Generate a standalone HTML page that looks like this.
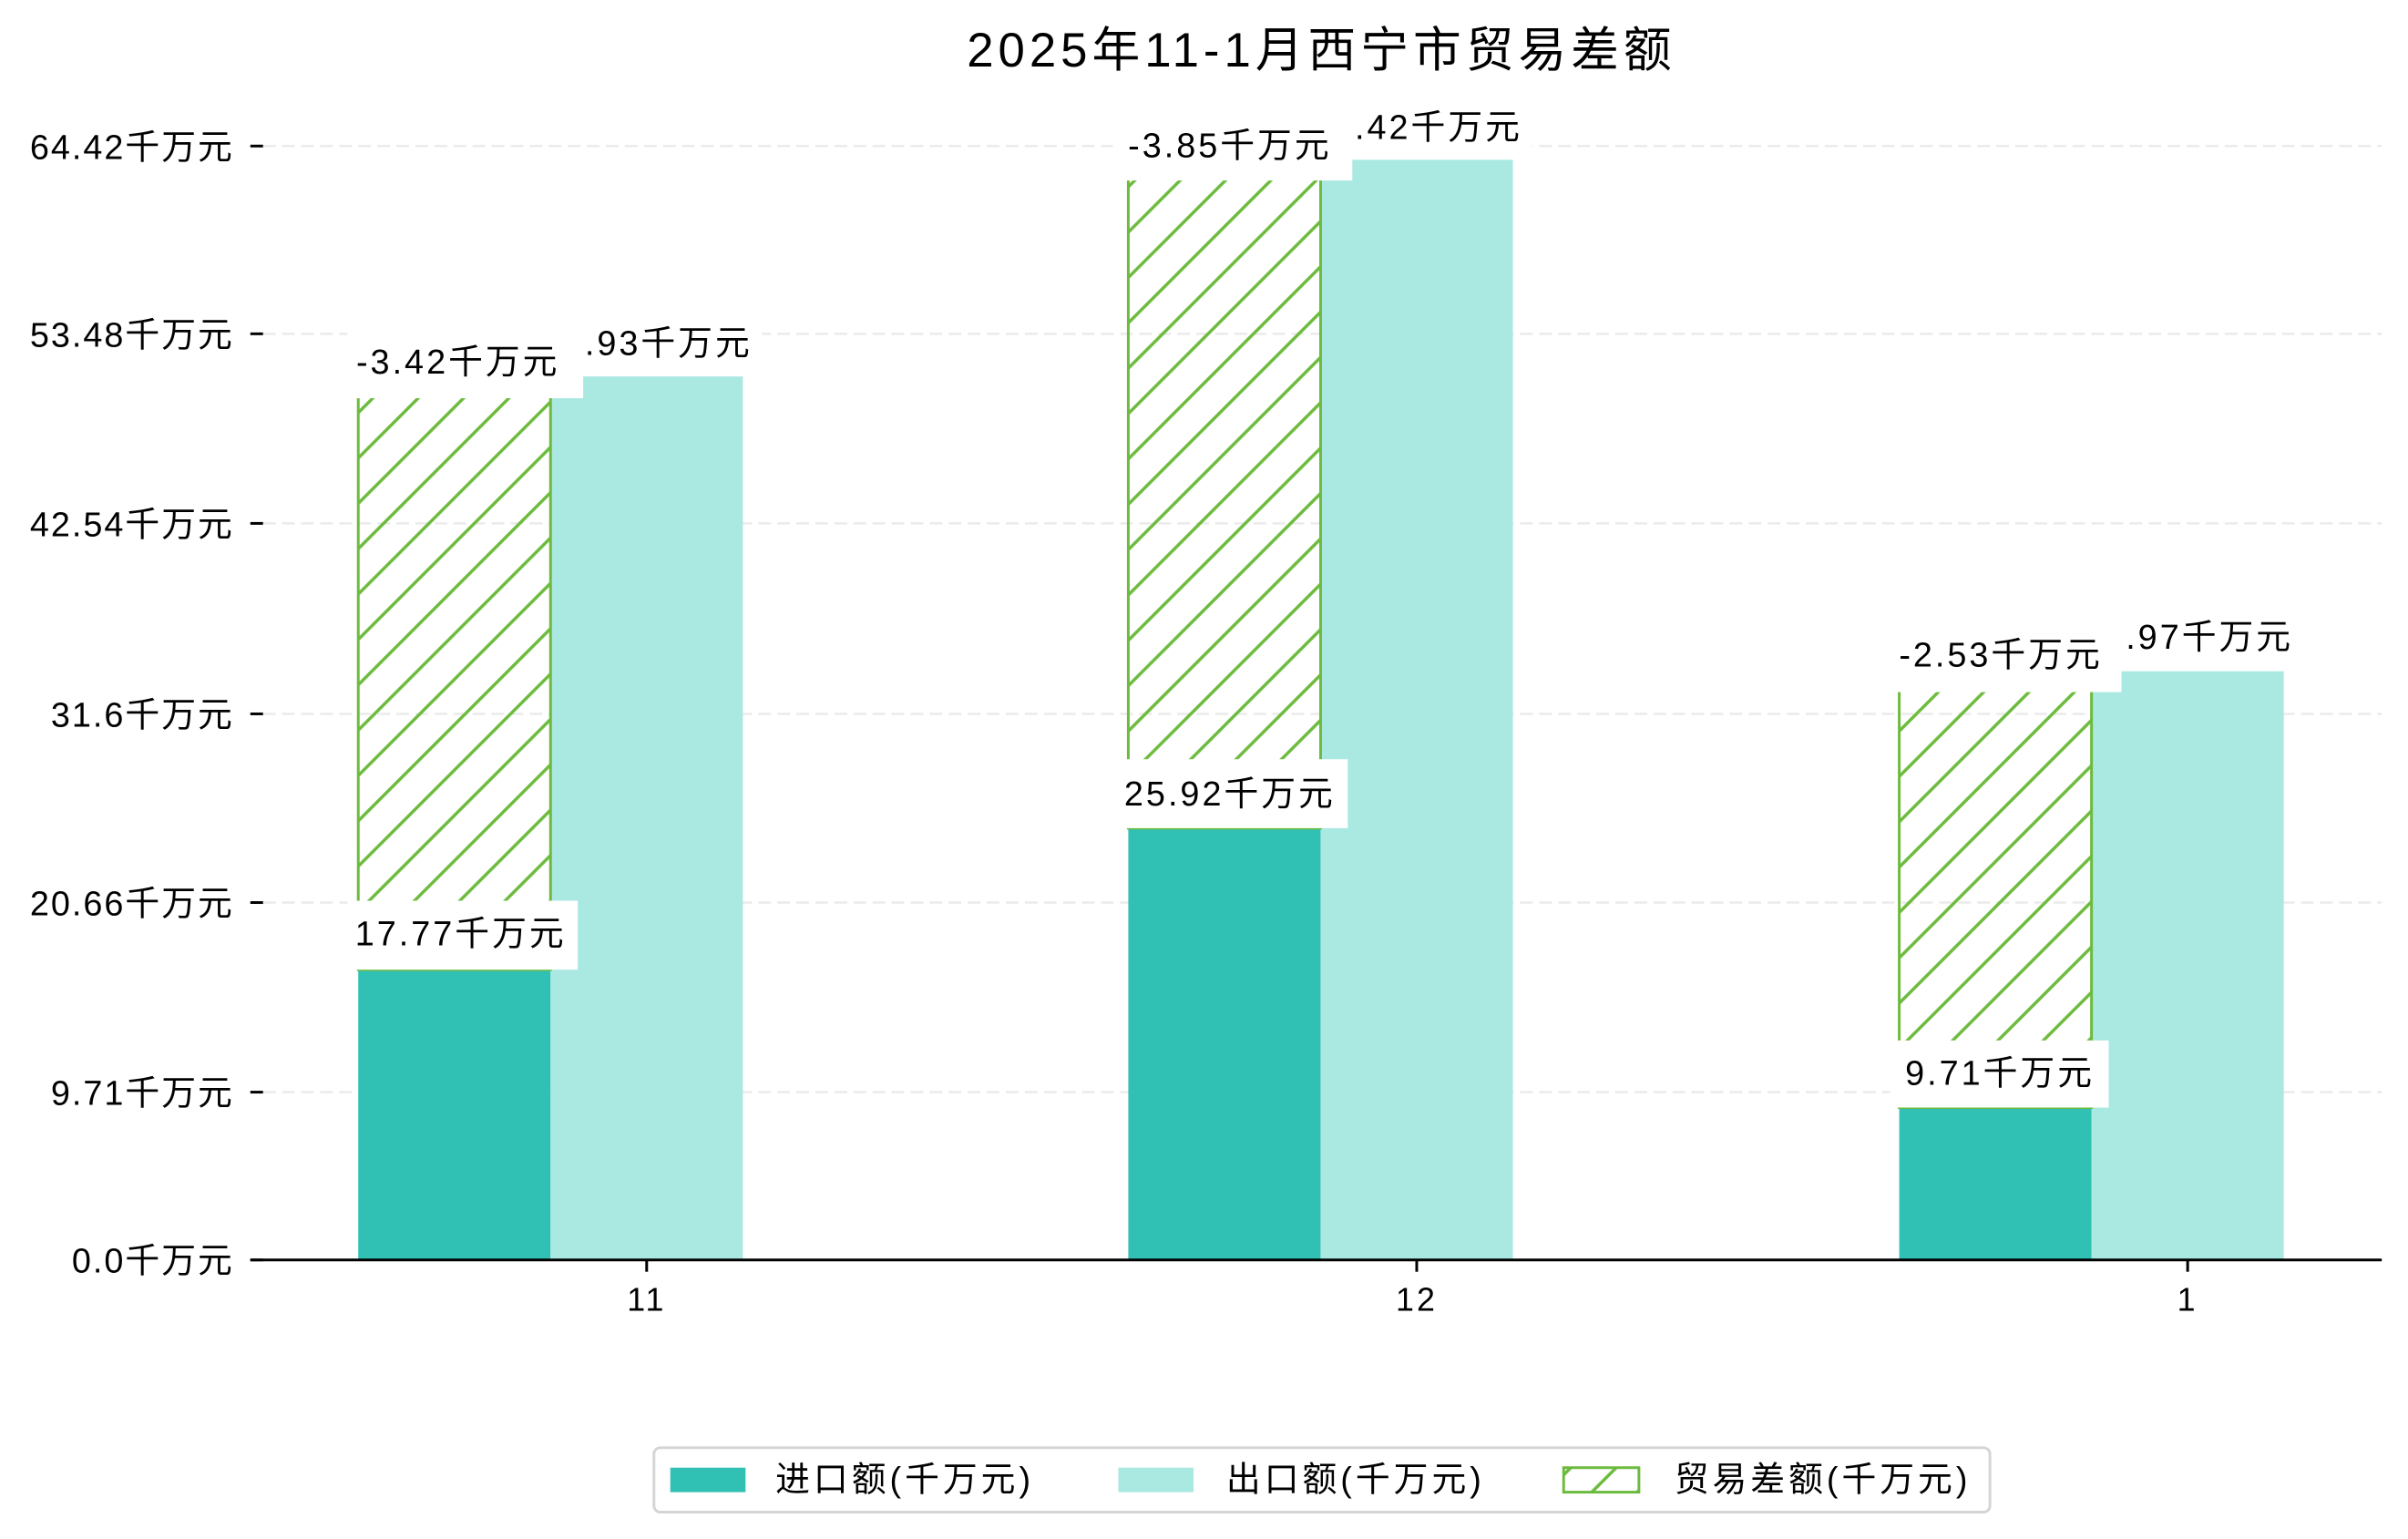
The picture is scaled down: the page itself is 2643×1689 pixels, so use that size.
<!DOCTYPE html>
<html><head><meta charset="utf-8"><style>
html,body{margin:0;padding:0;background:#fff;}
svg{display:block;}
text{font-family:"Liberation Sans","Noto Sans CJK SC",sans-serif;fill:#000;}
.l{letter-spacing:3px;}
.t{letter-spacing:2px;}
</style></head><body>
<svg width="2643" height="1689" viewBox="0 0 2643 1689" xmlns="http://www.w3.org/2000/svg">
<defs>
<pattern id="h" patternUnits="userSpaceOnUse" width="50" height="50">
<path d="M-5,5 L5,-5 M0,50 L50,0 M45,55 L55,45" stroke="#6dbb3e" stroke-width="3.5"/>
</pattern>
</defs>
<rect width="2643" height="1689" fill="#fff"/>
<g transform="scale(0.9955)">
<text x="1457" y="56" font-size="53" text-anchor="middle" dominant-baseline="central" style="letter-spacing:5px">2025年11-1月西宁市贸易差额</text>

<g stroke="#ebebeb" stroke-width="2.5" stroke-dasharray="14,7">
<line x1="290" y1="1204" x2="2626" y2="1204"/>
<line x1="290" y1="995" x2="2626" y2="995"/>
<line x1="290" y1="787" x2="2626" y2="787"/>
<line x1="290" y1="577" x2="2626" y2="577"/>
<line x1="290" y1="368" x2="2626" y2="368"/>
<line x1="290" y1="161" x2="2626" y2="161"/>
</g>

<g>
<rect x="395" y="1069" width="212" height="320" fill="#31c0b4"/>
<rect x="607" y="415" width="212" height="974" fill="#aae8e2"/>
<rect x="395" y="437" width="212" height="632" fill="url(#h)" stroke="#6dbb3e" stroke-width="3"/>

<rect x="1244" y="913" width="212" height="476" fill="#31c0b4"/>
<rect x="1456" y="176" width="212" height="1213" fill="#aae8e2"/>
<rect x="1244" y="197" width="212" height="716" fill="url(#h)" stroke="#6dbb3e" stroke-width="3"/>

<rect x="2094" y="1221" width="212" height="168" fill="#31c0b4"/>
<rect x="2306" y="740" width="212" height="649" fill="#aae8e2"/>
<rect x="2094" y="761" width="212" height="460" fill="url(#h)" stroke="#6dbb3e" stroke-width="3"/>
</g>

<line x1="276" y1="1389" x2="2626" y2="1389" stroke="#000" stroke-width="3"/>
<g stroke="#000" stroke-width="3">
<line x1="276" y1="1389" x2="290" y2="1389"/>
<line x1="276" y1="1204" x2="290" y2="1204"/>
<line x1="276" y1="995" x2="290" y2="995"/>
<line x1="276" y1="787" x2="290" y2="787"/>
<line x1="276" y1="577" x2="290" y2="577"/>
<line x1="276" y1="368" x2="290" y2="368"/>
<line x1="276" y1="161" x2="290" y2="161"/>
<line x1="713" y1="1389" x2="713" y2="1402"/>
<line x1="1562" y1="1389" x2="1562" y2="1402"/>
<line x1="2412" y1="1389" x2="2412" y2="1402"/>
</g>
<g font-size="38" text-anchor="end" dominant-baseline="central" class="t">
<text x="258" y="1391">0.0千万元</text>
<text x="258" y="1206">9.71千万元</text>
<text x="258" y="997">20.66千万元</text>
<text x="258" y="789">31.6千万元</text>
<text x="258" y="579">42.54千万元</text>
<text x="258" y="370">53.48千万元</text>
<text x="258" y="163">64.42千万元</text>
</g>
<g font-size="36" text-anchor="middle" dominant-baseline="central" class="l">
<text x="713" y="1433">11</text>
<text x="1562" y="1433">12</text>
<text x="2412" y="1433">1</text>
</g>

<g font-size="38" text-anchor="middle" dominant-baseline="central" class="l">
<rect x="586" y="345" width="254" height="69" fill="#fff"/><text x="713" y="379">51.93千万元</text>
<rect x="1435" y="107" width="254" height="69" fill="#fff"/><text x="1562" y="141">63.42千万元</text>
<rect x="2285" y="669" width="254" height="69" fill="#fff"/><text x="2412" y="703">33.97千万元</text>

<rect x="383" y="993" width="254" height="76" fill="#fff"/><text x="501" y="1030" dx="7">17.77千万元</text>
<rect x="1227" y="837" width="259" height="76" fill="#fff"/><text x="1350" y="876" dx="6">25.92千万元</text>
<rect x="2084" y="1147" width="241" height="74" fill="#fff"/><text x="2200" y="1184" dx="5">9.71千万元</text>

<rect x="383" y="358" width="260" height="81" fill="#fff"/><text x="501" y="400" dx="4">-3.42千万元</text>
<rect x="1227" y="120" width="264" height="79" fill="#fff"/><text x="1350" y="161" dx="6">-3.85千万元</text>
<rect x="2079" y="683" width="260" height="80" fill="#fff"/><text x="2200" y="723" dx="6">-2.53千万元</text>
</g>

<rect x="721" y="1596" width="1473" height="71" rx="7" fill="#fff" stroke="#d5d5d5" stroke-width="3"/>
<rect x="739" y="1618" width="83" height="27" fill="#31c0b4"/>
<rect x="1233" y="1618" width="83" height="27" fill="#aae8e2"/>
<rect x="1724" y="1618" width="83" height="27" fill="url(#h)" stroke="#6dbb3e" stroke-width="3"/>
<g font-size="38" dominant-baseline="central" style="letter-spacing:4px">
<text x="855" y="1632">进口额(千万元)</text>
<text x="1352" y="1632">出口额(千万元)</text>
<text x="1846" y="1632">贸易差额(千万元)</text>
</g>
</g>
</svg>
</body></html>
